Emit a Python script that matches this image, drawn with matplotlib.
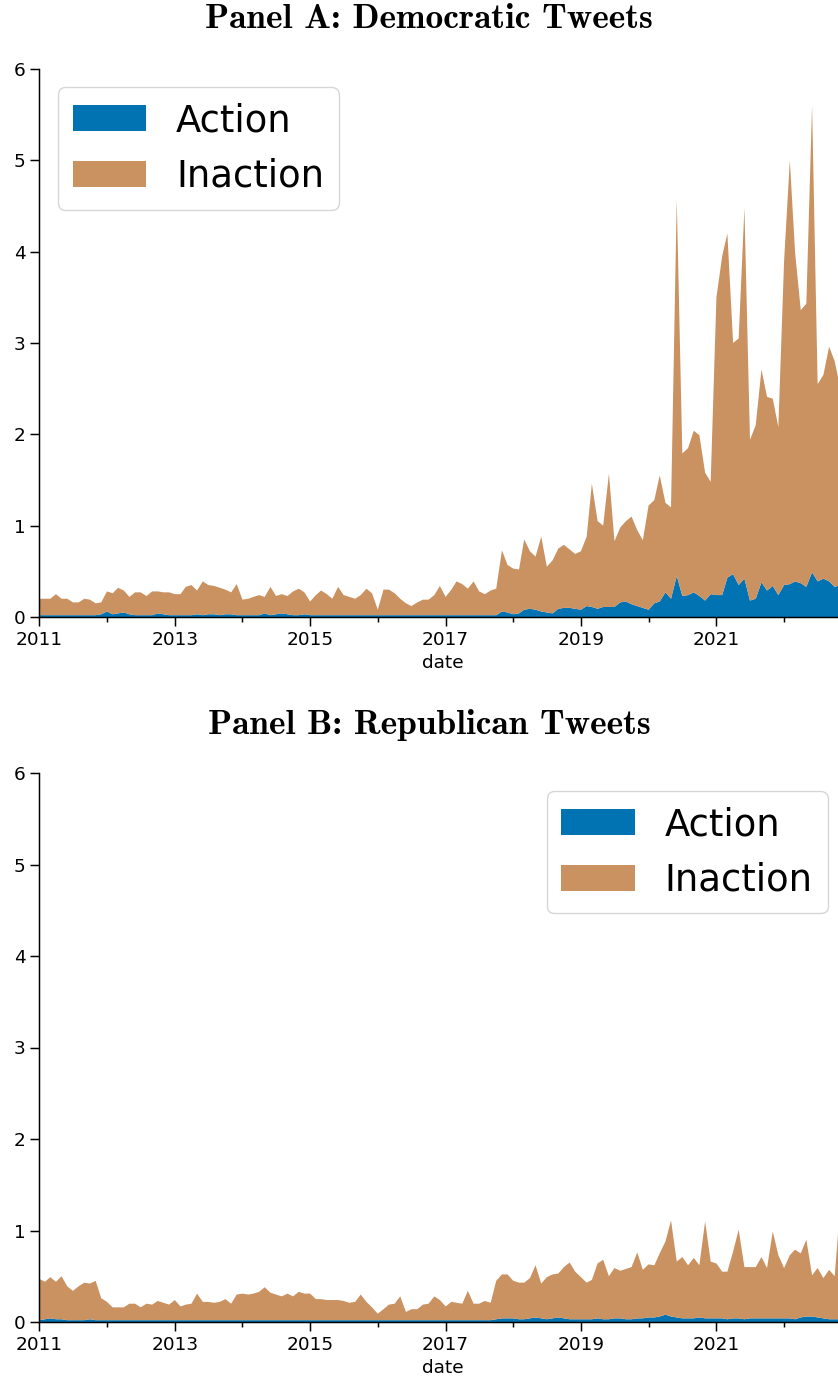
import matplotlib.pyplot as plt
import matplotlib.dates as mdates
import pandas as pd
from datetime import datetime

# monthly share of tweets, 2011-01 .. 2022-12
months = pd.date_range("2011-01-01", periods=144, freq="MS")

dem_action = [
    0.02, 0.02, 0.02, 0.02, 0.02, 0.02, 0.02, 0.02, 0.02, 0.02, 0.02, 0.03,
    0.06, 0.03, 0.04, 0.05, 0.03, 0.02, 0.02, 0.02, 0.02, 0.04, 0.03, 0.02,
    0.02, 0.02, 0.02, 0.02, 0.03, 0.02, 0.03, 0.03, 0.02, 0.03, 0.03, 0.02,
    0.02, 0.02, 0.02, 0.02, 0.04, 0.02, 0.03, 0.04, 0.03, 0.02, 0.02, 0.03,
    0.02, 0.02, 0.02, 0.02, 0.02, 0.02, 0.02, 0.02, 0.02, 0.02, 0.02, 0.02,
    0.02, 0.02, 0.02, 0.02, 0.02, 0.02, 0.02, 0.02, 0.02, 0.02, 0.02, 0.02,
    0.02, 0.02, 0.02, 0.02, 0.02, 0.02, 0.02, 0.02, 0.02, 0.02, 0.06, 0.05,
    0.03, 0.04, 0.08, 0.09, 0.08, 0.06, 0.05, 0.04, 0.09, 0.10, 0.10, 0.09,
    0.08, 0.12, 0.11, 0.09, 0.11, 0.11, 0.11, 0.16, 0.17, 0.14, 0.12, 0.10,
    0.08, 0.15, 0.17, 0.27, 0.20, 0.45, 0.23, 0.24, 0.27, 0.23, 0.18, 0.25,
    0.24, 0.24, 0.43, 0.47, 0.35, 0.42, 0.18, 0.20, 0.38, 0.29, 0.34, 0.24,
    0.35, 0.36, 0.39, 0.37, 0.33, 0.49, 0.39, 0.42, 0.39, 0.33, 0.35, 0.33,
]
dem_inaction = [
    0.18, 0.18, 0.18, 0.23, 0.18, 0.18, 0.14, 0.14, 0.18, 0.17, 0.13, 0.13,
    0.22, 0.23, 0.28, 0.24, 0.19, 0.25, 0.25, 0.21, 0.26, 0.24, 0.24, 0.25,
    0.23, 0.23, 0.31, 0.33, 0.26, 0.37, 0.32, 0.31, 0.30, 0.27, 0.24, 0.34,
    0.17, 0.18, 0.20, 0.22, 0.18, 0.31, 0.20, 0.21, 0.20, 0.26, 0.29, 0.24,
    0.15, 0.22, 0.27, 0.23, 0.18, 0.31, 0.22, 0.20, 0.18, 0.22, 0.29, 0.24,
    0.06, 0.28, 0.28, 0.24, 0.18, 0.13, 0.10, 0.14, 0.17, 0.17, 0.22, 0.32,
    0.20, 0.28, 0.37, 0.34, 0.29, 0.37, 0.26, 0.23, 0.27, 0.29, 0.67, 0.52,
    0.50, 0.48, 0.77, 0.63, 0.58, 0.82, 0.50, 0.58, 0.66, 0.69, 0.64, 0.60,
    0.64, 0.76, 1.35, 0.96, 0.89, 1.46, 0.72, 0.82, 0.88, 0.96, 0.83, 0.74,
    1.14, 1.13, 1.38, 0.98, 1.00, 4.12, 1.56, 1.61, 1.77, 1.76, 1.40, 1.23,
    3.26, 3.71, 3.77, 2.53, 2.70, 4.06, 1.76, 1.90, 2.33, 2.12, 2.05, 1.84,
    3.55, 4.64, 3.61, 2.99, 3.10, 5.11, 2.16, 2.23, 2.57, 2.47, 2.15, 2.07,
]

rep_action = [
    0.02, 0.03, 0.04, 0.03, 0.03, 0.02, 0.02, 0.02, 0.02, 0.03, 0.02, 0.02,
    0.02, 0.02, 0.02, 0.02, 0.02, 0.02, 0.02, 0.02, 0.02, 0.02, 0.02, 0.02,
    0.02, 0.02, 0.02, 0.02, 0.02, 0.02, 0.02, 0.02, 0.02, 0.02, 0.02, 0.02,
    0.02, 0.02, 0.02, 0.02, 0.02, 0.02, 0.02, 0.02, 0.02, 0.02, 0.02, 0.02,
    0.02, 0.02, 0.02, 0.02, 0.02, 0.02, 0.02, 0.02, 0.02, 0.02, 0.02, 0.02,
    0.02, 0.02, 0.02, 0.02, 0.02, 0.02, 0.02, 0.02, 0.02, 0.02, 0.02, 0.02,
    0.02, 0.02, 0.02, 0.02, 0.02, 0.02, 0.02, 0.02, 0.02, 0.03, 0.04, 0.04,
    0.04, 0.03, 0.03, 0.04, 0.05, 0.04, 0.03, 0.04, 0.05, 0.04, 0.03, 0.03,
    0.03, 0.03, 0.03, 0.04, 0.03, 0.03, 0.04, 0.04, 0.03, 0.03, 0.04, 0.04,
    0.05, 0.05, 0.06, 0.08, 0.06, 0.05, 0.04, 0.04, 0.04, 0.05, 0.04, 0.04,
    0.04, 0.04, 0.03, 0.04, 0.04, 0.03, 0.04, 0.04, 0.04, 0.04, 0.04, 0.04,
    0.04, 0.04, 0.03, 0.05, 0.06, 0.06, 0.05, 0.04, 0.03, 0.03, 0.03, 0.03,
]
rep_inaction = [
    0.45, 0.41, 0.45, 0.41, 0.47, 0.37, 0.32, 0.37, 0.41, 0.39, 0.43, 0.24,
    0.20, 0.14, 0.14, 0.14, 0.18, 0.18, 0.14, 0.18, 0.17, 0.21, 0.19, 0.17,
    0.22, 0.15, 0.17, 0.18, 0.29, 0.20, 0.20, 0.19, 0.20, 0.23, 0.18, 0.28,
    0.29, 0.28, 0.29, 0.31, 0.36, 0.30, 0.28, 0.26, 0.29, 0.26, 0.31, 0.29,
    0.29, 0.23, 0.23, 0.22, 0.22, 0.22, 0.21, 0.19, 0.20, 0.28, 0.20, 0.14,
    0.07, 0.12, 0.17, 0.18, 0.26, 0.09, 0.12, 0.12, 0.17, 0.18, 0.26, 0.22,
    0.15, 0.20, 0.19, 0.18, 0.32, 0.18, 0.18, 0.21, 0.19, 0.42, 0.48, 0.48,
    0.41, 0.40, 0.40, 0.44, 0.57, 0.38, 0.46, 0.48, 0.48, 0.56, 0.62, 0.52,
    0.46, 0.40, 0.43, 0.60, 0.65, 0.47, 0.55, 0.52, 0.55, 0.57, 0.72, 0.53,
    0.58, 0.57, 0.69, 0.80, 1.05, 0.61, 0.67, 0.58, 0.66, 0.57, 1.06, 0.62,
    0.60, 0.51, 0.52, 0.73, 0.97, 0.57, 0.56, 0.56, 0.67, 0.55, 0.95, 0.69,
    0.55, 0.69, 0.76, 0.70, 0.84, 0.45, 0.54, 0.44, 0.54, 0.47, 1.27, 0.87,
]

labels = ["Action", "Inaction"]
colors = ["#0173b2", "#ca9161"]

fig = plt.figure(figsize=(8.38, 13.81), dpi=100)
W, H = 838, 1381


def draw_panel(top, bottom, action, inaction, title, title_y, loc):
    ax = fig.add_axes([39.3 / W, (H - bottom) / H, (846 - 39.3) / W, (bottom - top) / H])
    ax.stackplot(months, action, inaction, labels=labels, colors=colors, linewidth=0)
    ax.set_xlim(months[0], months[-1])
    ax.set_ylim(0, 6)
    ax.set_yticks(range(7))
    ax.set_xticks([datetime(y, 1, 1) for y in range(2011, 2023, 2)])
    ax.set_xticks([datetime(y, 1, 1) for y in range(2012, 2023, 2)], minor=True)
    ax.xaxis.set_major_formatter(mdates.DateFormatter("%Y"))
    ax.tick_params(which="major", labelsize=13.3, length=6.5, width=1.07)
    ax.tick_params(which="minor", length=3.7, width=1.07)
    ax.set_xlabel("date", fontsize=13.3)
    for side in ["top", "right"]:
        ax.spines[side].set_visible(False)
    for side in ["left", "bottom"]:
        ax.spines[side].set_linewidth(1.07)
    ax.legend(loc=loc, fontsize=26.6)
    fig.text(429 / W, 1 - title_y / H, title, ha="center", va="center",
             fontsize=25.5, family="cmb10")
    return ax


draw_panel(69, 617, dem_action, dem_inaction, "Panel A: Democratic Tweets", 20, "upper left")
draw_panel(773, 1322, rep_action, rep_inaction, "Panel B: Republican Tweets", 725, "upper right")

plt.savefig("out.png", dpi=100)
